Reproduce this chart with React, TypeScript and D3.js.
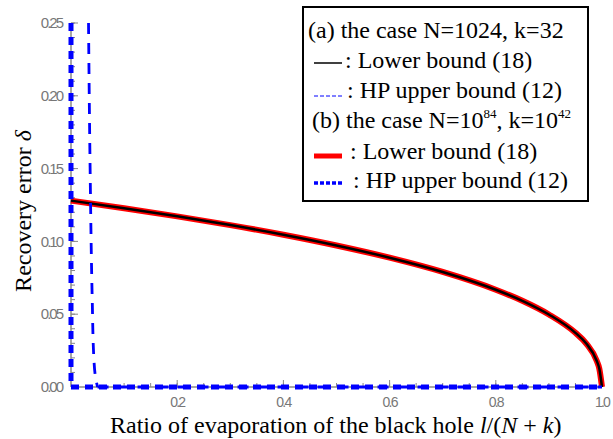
import React from "react";
import * as d3 from "d3";

// lower bound (18): same curve for both cases
const lowerX = [0, 0.1, 0.2, 0.3, 0.4, 0.5, 0.6, 0.7, 0.8, 0.85, 0.9, 0.95, 0.97, 0.99, 0.995, 1.0];
const lowerY = [0.128, 0.1228, 0.1172, 0.1112, 0.1046, 0.0972, 0.0888, 0.079, 0.0668, 0.0592, 0.0498, 0.0372, 0.03, 0.018, 0.0125, 0];

// HP upper bound (12), case (a)
const hpAX = [0.033, 0.036, 0.04, 0.043, 0.047, 0.05, 1.0];
const hpAY = [0.25, 0.15, 0.06, 0.02, 0.005, 0, 0];

// HP upper bound (12), case (b)
const hpBX = [0, 0, 1.0];
const hpBY = [0.25, 0, 0];

const xTicks = [0.2, 0.4, 0.6, 0.8, 1.0];
const yTicks = [0, 0.05, 0.1, 0.15, 0.2, 0.25];

const legendRows = [
  { kind: "title", text: "(a) the case N=1024, k=32" },
  { kind: "black", text: ": Lower bound (18)" },
  { kind: "thinDash", text: ": HP upper bound (12)" },
  { kind: "titleB", text: "" },
  { kind: "red", text: ": Lower bound (18)" },
  { kind: "thickDash", text: ": HP upper bound (12)" },
];

function App() {
  const w = 613,
    h = 439,
    margin = { top: 23, bottom: 52, left: 71, right: 11 };

  const width = w - margin.left - margin.right,
    height = h - margin.top - margin.bottom;

  const x = d3.scaleLinear().domain([0, 1]).range([0, width]);
  const y = d3.scaleLinear().domain([0, 0.25]).range([height, 0]);

  const line = d3
    .line<[number, number]>()
    .x((d) => x(d[0]))
    .y((d) => y(d[1]));

  const lowerPts = lowerX.map((v, i) => [v, lowerY[i]] as [number, number]);
  const lowerPath = d3.line<[number, number]>().x((d) => x(d[0])).y((d) => y(d[1])).curve(d3.curveMonotoneX)(lowerPts) || "";
  const hpAPath = d3.line<[number, number]>().x((d) => x(d[0])).y((d) => y(d[1])).curve(d3.curveMonotoneY)(
    hpAX.slice(0, 6).map((v, i) => [v, hpAY[i]] as [number, number])
  ) || "";
  const hpATail = line([[hpAX[5], hpAY[5]], [hpAX[6], hpAY[6]]]) || "";
  const hpBPath = line(hpBX.map((v, i) => [v, hpBY[i]] as [number, number])) || "";

  const axisColor = "#888";
  const tickFont = "Liberation Sans, Arial, sans-serif";
  const serif = "Liberation Serif, DejaVu Serif, serif";
  const fsz = 24;

  const xMinor = d3.range(0.05, 1.0001, 0.05);
  const yMinor = d3.range(0.01, 0.2501, 0.01);

  const lx = 303,
    ly = 7;
  // baselines, sample line heights and text starts per legend row
  const rowBase = [38, 68, 98, 128, 159, 188];
  const rowLine = [0, 63, 96, 0, 156, 183];
  const rowTx = [308, 345, 347, 312, 350, 353];

  return (
    <svg width={w} height={h} style={{ position: "absolute", left: 0, top: 0, background: "#fff" }}>
      <g transform={`translate(${margin.left},${margin.top})`}>
        {/* minor ticks */}
        {xMinor.map((d, i) => (
          <line key={"xm" + i} x1={x(d)} x2={x(d)} y1={height} y2={height - 4} stroke={axisColor} strokeWidth={1} />
        ))}
        {xTicks.map((d, i) => (
          <line key={"xt" + i} x1={x(d)} x2={x(d)} y1={height} y2={height - 7} stroke={axisColor} strokeWidth={1} />
        ))}
        {yMinor.map((d, i) => (
          <line key={"ym" + i} x1={0} x2={4} y1={y(d)} y2={y(d)} stroke={axisColor} strokeWidth={1} />
        ))}
        {yTicks.map((d, i) => (
          <line key={"yt" + i} x1={0} x2={7} y1={y(d)} y2={y(d)} stroke={axisColor} strokeWidth={1} />
        ))}
        <line x1={0} x2={0} y1={0} y2={height} stroke={axisColor} strokeWidth={1.5} />
        <line x1={0} x2={width} y1={height} y2={height} stroke={axisColor} strokeWidth={1.5} />

        {/* tick labels */}
        {xTicks.map((d, i) => (
          <text key={"xl" + i} x={x(d)} y={height + 20} textAnchor="middle" fill="#777"
            fontFamily={tickFont} fontSize={14} letterSpacing={-1.8}>
            {d.toFixed(1)}
          </text>
        ))}
        {yTicks.map((d, i) => (
          <text key={"yl" + i} x={-9} y={y(d)} dy="0.35em" textAnchor="end" fill="#777"
            fontFamily={tickFont} fontSize={15} letterSpacing={-2}>
            {d.toFixed(2)}
          </text>
        ))}

        {/* curves */}
        <path d={lowerPath} fill="none" stroke="#ff0000" strokeWidth={6} />
        <path d={lowerPath} fill="none" stroke="#000" strokeWidth={2.5} />
        <path d={hpBPath} fill="none" stroke="#0000ff" strokeWidth={5} strokeDasharray="8,6" />
        <path d={hpAPath} fill="none" stroke="#0000ff" strokeWidth={2.8} strokeDasharray="11,9" />
        <path d={hpATail} fill="none" stroke="#0000ff" strokeWidth={2.8} strokeDasharray="11,9" />
      </g>

      {/* axis titles */}
      <text transform={`translate(31,211) rotate(-90)`} textAnchor="middle" fontFamily={serif} fontSize={fsz}>
        Recovery error <tspan fontStyle="italic">δ</tspan>
      </text>
      <text x={110} y={433} fontFamily={serif} fontSize={fsz}>
        Ratio of evaporation of the black hole <tspan fontStyle="italic">l</tspan>/(<tspan fontStyle="italic">N</tspan> + <tspan fontStyle="italic">k</tspan>)
      </text>

      {/* legend */}
      <rect x={lx} y={ly} width={285} height={194} fill="#fff" stroke="#000" strokeWidth={2} />
      {legendRows.map((r, i) => {
        const base = rowBase[i];
        const cy = rowLine[i];
        const tx = rowTx[i];
        if (r.kind === "title") {
          return <text key={i} x={tx} y={base} fontFamily={serif} fontSize={fsz}>{r.text}</text>;
        }
        if (r.kind === "titleB") {
          return (
            <text key={i} x={tx} y={base} fontFamily={serif} fontSize={fsz}>
              (b) the case N=10<tspan fontSize={13} dy={-10}>84</tspan>
              <tspan dy={10}>, k=10</tspan>
              <tspan fontSize={13} dy={-10}>42</tspan>
            </text>
          );
        }
        let sample: React.ReactNode = null;
        if (r.kind === "black") sample = <line x1={314} x2={342} y1={cy} y2={cy} stroke="#000" strokeWidth={1.5} />;
        if (r.kind === "thinDash") sample = <line x1={314} x2={342} y1={cy} y2={cy} stroke="#0000ff" strokeWidth={1} strokeDasharray="4,2" />;
        if (r.kind === "red") sample = <line x1={314} x2={342} y1={cy} y2={cy} stroke="#ff0000" strokeWidth={5} />;
        if (r.kind === "thickDash") sample = <line x1={314} x2={342} y1={cy} y2={cy} stroke="#0000ff" strokeWidth={3.5} strokeDasharray="4,2" />;
        return (
          <g key={i}>
            {sample}
            <text x={tx} y={base} fontFamily={serif} fontSize={fsz}>{r.text}</text>
          </g>
        );
      })}
    </svg>
  );
}

export default App;
